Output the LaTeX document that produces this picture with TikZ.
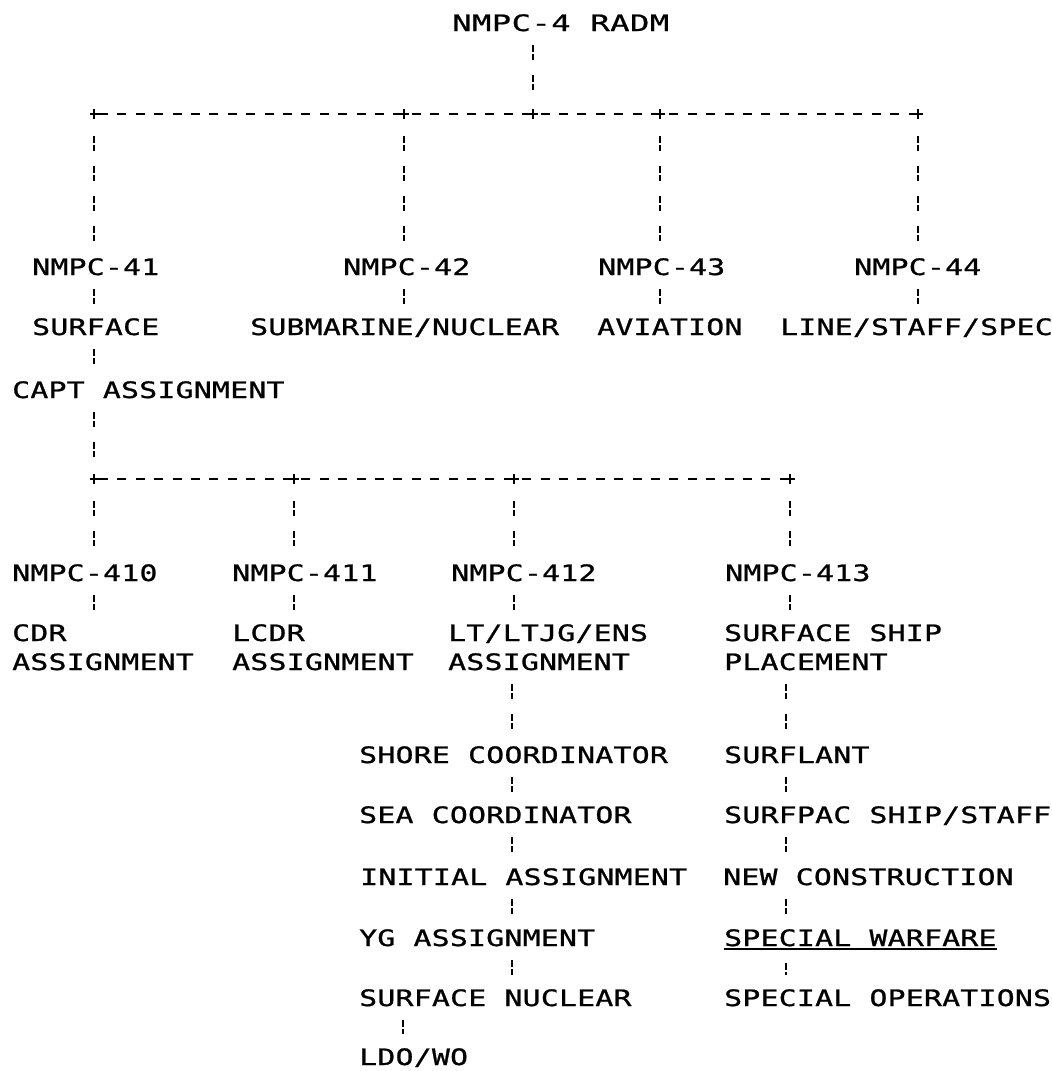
\documentclass[tikz,border=0pt]{standalone}
\usepackage{fontspec}
\newfontfamily\plotfont[FakeStretch=1.32,LetterSpace=1,FakeBold=1]{DejaVu Sans Mono}
\newfontfamily\plotfontwide[FakeStretch=1.42,LetterSpace=2.2,FakeBold=1]{DejaVu Sans Mono}
\tikzset{
  lbl/.style={font={\plotfont\fontsize{22.6pt}{26pt}\selectfont}, anchor=base west, inner sep=0pt, text height=16.5pt, text depth=0pt},
  lblwide/.style={lbl, font={\plotfontwide\fontsize{22.6pt}{26pt}\selectfont}},
  vconn/.style={line width=1.8pt, dash pattern=on 7pt off 2pt on 6pt off 15pt, shorten <=14pt, shorten >=14pt},
  hconn/.style={line width=1.8pt, dash pattern=on 9pt off 9.4pt, dash phase=-5pt},
  plusmark/.pic={\draw[line width=2pt] (-4.5,0) -- (4.5,0) (0,-5) -- (0,5);},
  uline/.style={line width=1.6pt}
}
\begin{document}
\begin{tikzpicture}[x=1pt,y=-1pt]
\useasboundingbox (0,0) rectangle (1052,1071);
% labels
\node[lblwide] (radm) at (452,31) {NMPC-4 RADM};
\node[lbl] (n41) at (32,275) {NMPC-41};
\node[lbl] (n42) at (343,275) {NMPC-42};
\node[lbl] (n43) at (598,275) {NMPC-43};
\node[lbl] (n44) at (854,275) {NMPC-44};
\node[lbl] (surf) at (32,335) {SURFACE};
\node[lbl] (sub) at (250,335) {SUBMARINE/NUCLEAR};
\node[lbl] (avi) at (597,335) {AVIATION};
\node[lbl] (lss) at (780,335) {LINE/STAFF/SPEC};
\node[lbl] (capt) at (12,398) {CAPT ASSIGNMENT};
\node[lbl] (n410) at (12,581) {NMPC-410};
\node[lbl] (n411) at (232,581) {NMPC-411};
\node[lbl] (n412) at (451,581) {NMPC-412};
\node[lbl] (n413) at (725,581) {NMPC-413};
\node[lbl] (cdr) at (12,641) {CDR};
\node[lbl] (cdrb) at (12,670) {ASSIGNMENT};
\node[lbl] (lcdr) at (232,641) {LCDR};
\node[lbl] (lcdrb) at (232,670) {ASSIGNMENT};
\node[lbl] (lt) at (448,641) {LT/LTJG/ENS};
\node[lbl] (ltb) at (448,670) {ASSIGNMENT};
\node[lbl] (ssp) at (724,641) {SURFACE SHIP};
\node[lbl] (sspb) at (724,670) {PLACEMENT};
\node[lbl] (shore) at (359,763) {SHORE COORDINATOR};
\node[lbl] (sflant) at (724,763) {SURFLANT};
\node[lbl] (sea) at (359,823) {SEA COORDINATOR};
\node[lbl] (sfpac) at (724,823) {SURFPAC SHIP/STAFF};
\node[lbl] (init) at (360,885) {INITIAL ASSIGNMENT};
\node[lbl] (newc) at (723,885) {NEW CONSTRUCTION};
\node[lbl] (yg) at (359,946) {YG ASSIGNMENT};
\node[lbl] (spw) at (724,946) {SPECIAL WARFARE};
\node[lbl] (snuc) at (359,1006) {SURFACE NUCLEAR};
\node[lbl] (spop) at (724,1006) {SPECIAL OPERATIONS};
\node[lbl] (ldo) at (359,1065) {LDO/WO};
\draw[uline] ([yshift=-3pt]spw.south west) -- ([yshift=-3pt]spw.south east);
% junctions top
\coordinate (j1) at (94,114);
\coordinate (j2) at (404,114);
\coordinate (jt) at (533,114);
\coordinate (j3) at (660,114);
\coordinate (j4) at (918,114);
% junctions lower
\coordinate (k1) at (94,479);
\coordinate (k2) at (294,479);
\coordinate (k3) at (514,479);
\coordinate (k4) at (790,479);
\coordinate (cl) at (512,0);
\coordinate (cr) at (786,0);
\coordinate (cn) at (403,0);
% bars
\draw[hconn] (j1) -- (j4);
\draw[hconn] (k1) -- (k4);
\foreach \j in {j1,j2,jt,j3,j4,k1,k2,k3,k4} \pic at (\j) {plusmark};
% top connectors
\draw[vconn, shorten >=22pt] (radm.south -| jt) -- (jt);
\foreach \j/\n/\m in {j1/n41/surf, j2/n42/sub, j3/n43/avi, j4/n44/lss} {
  \draw[vconn, shorten <=22pt] (\j) -- (\n.north -| \j);
  \draw[vconn] (\n.south -| \j) -- (\m.north -| \j);
}
\draw[vconn] (surf.south -| j1) -- (capt.north -| j1);
\draw[vconn, shorten >=22pt] (capt.south -| k1) -- (k1);
\foreach \k/\n/\m in {k1/n410/cdr, k2/n411/lcdr, k3/n412/lt, k4/n413/ssp} {
  \draw[vconn, shorten <=22pt] (\k) -- (\n.north -| \k);
  \draw[vconn] (\n.south -| \k) -- (\m.north -| \k);
}
% left chain
\draw[vconn] (ltb.south -| cl) -- (shore.north -| cl);
\draw[vconn] (shore.south -| cl) -- (sea.north -| cl);
\draw[vconn] (sea.south -| cl) -- (init.north -| cl);
\draw[vconn] (init.south -| cl) -- (yg.north -| cl);
\draw[vconn] (yg.south -| cl) -- (snuc.north -| cl);
\draw[vconn] (snuc.south -| cn) -- (ldo.north -| cn);
% right chain
\draw[vconn] (sspb.south -| cr) -- (sflant.north -| cr);
\draw[vconn] (sflant.south -| cr) -- (sfpac.north -| cr);
\draw[vconn] (sfpac.south -| cr) -- (newc.north -| cr);
\draw[vconn] (newc.south -| cr) -- (spw.north -| cr);
\draw[vconn, shorten <=17pt] (spw.south -| cr) -- (spop.north -| cr);
\end{tikzpicture}
\end{document}
